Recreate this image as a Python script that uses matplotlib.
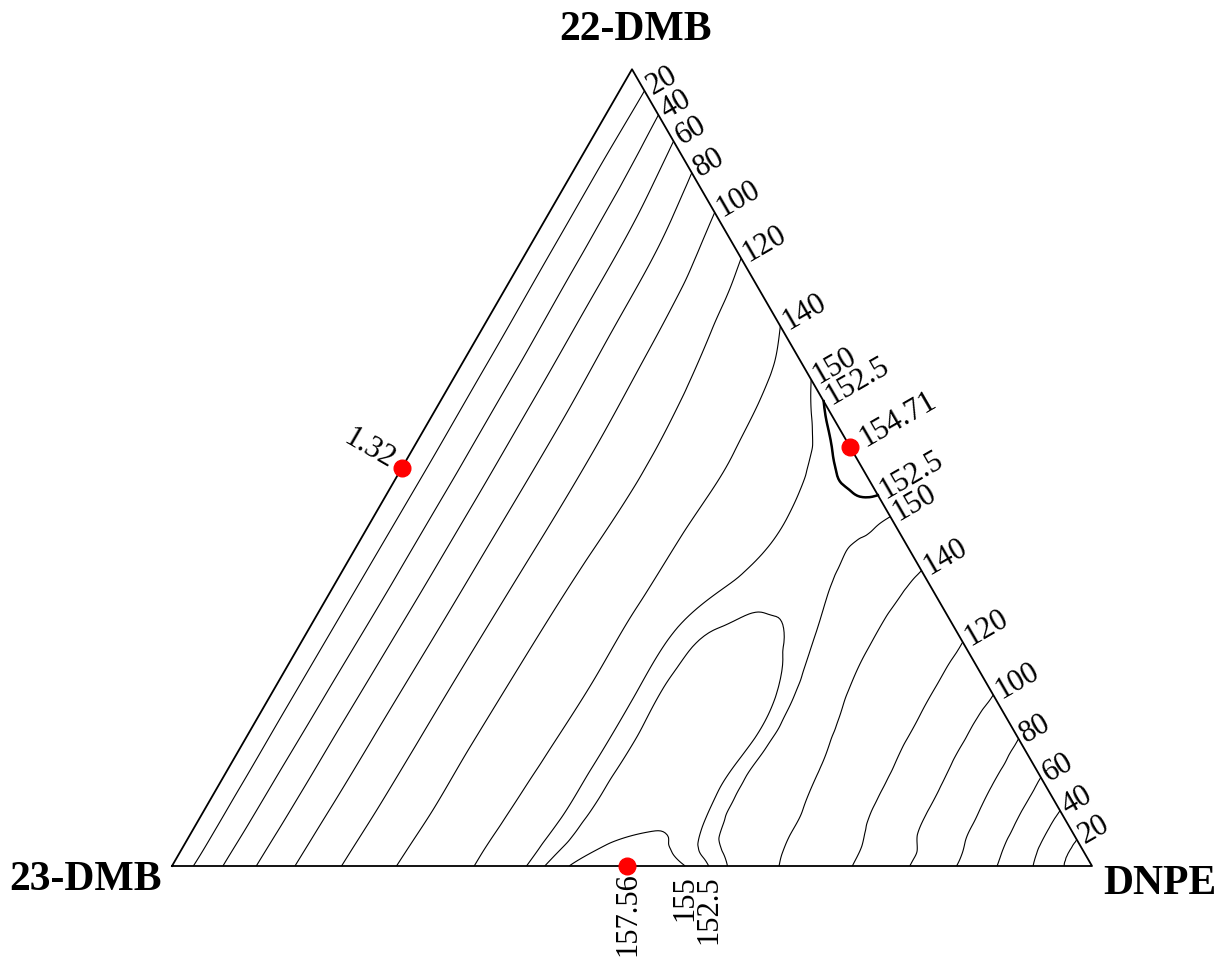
import matplotlib
matplotlib.use("Agg")
import matplotlib.pyplot as plt
import matplotlib.tri as mtri
import numpy as np

plt.rcParams["font.family"] = ["Liberation Serif", "DejaVu Serif"]

# grid of the read-off field: rows follow the DNPE fraction c,
# columns the 22-DMB share of the rest, t = a / (a + b)
c_frac = [0, 0.025, 0.05, 0.1, 0.15, 0.2, 0.25, 0.3, 0.35, 0.4, 0.45,
          0.5, 0.55, 0.6, 0.65, 0.7, 0.75, 0.8, 0.85, 0.9, 0.95, 1.0]
t_share = [0, 0.05, 0.1, 0.2, 0.35, 0.5, 0.65, 0.8, 0.9, 0.95, 1.0]

# one list per t column, values along c_frac
field = [
    [0, 21.3, 36.9, 64.3, 86.8, 105.7, 121.7, 134.0, 144.2, 151.9, 156.2,
     157.5, 155.6, 150.5, 142.1, 130.4, 117.0, 100.7, 81.2, 58.5, 32.0, 0],
    [0.25, 20.5, 36.2, 63.6, 86.2, 105.0, 121.0, 133.5, 144.0, 151.2, 154.6,
     155.9, 153.5, 148.6, 141.0, 130.0, 116.8, 100.6, 81.0, 58.0, 31.5, 0],
    [0.48, 20.3, 35.8, 63.0, 85.6, 104.4, 120.4, 133.1, 143.4, 150.8, 153.9,
     154.8, 152.8, 147.3, 140.5, 129.5, 116.2, 100.0, 80.5, 57.5, 31.0, 0],
    [0.84, 20.0, 35.0, 62.3, 84.8, 103.9, 120.2, 132.1, 142.8, 150.6, 153.5,
     154.0, 152.2, 146.3, 140.1, 127.7, 113.6, 96.5, 78.8, 56.5, 30.3, 0],
    [1.2, 19.3, 33.8, 60.9, 83.6, 103.0, 119.3, 131.2, 141.8, 150.5, 153.4,
     154.0, 152.8, 145.7, 138.8, 126.7, 112.3, 95.5, 77.8, 55.6, 29.4, 0],
    [1.32, 18.6, 33.1, 60.0, 82.7, 101.6, 118.0, 130.3, 141.5, 150.0, 152.9,
     153.4, 152.2, 145.1, 137.1, 125.5, 111.5, 94.8, 77.0, 55.1, 29.1, 0],
    [1.2, 18.6, 33.0, 59.8, 82.1, 100.8, 116.3, 129.0, 140.5, 146.4, 151.1,
     152.3, 150.4, 143.7, 135.2, 124.8, 110.8, 94.0, 76.6, 54.8, 29.1, 0],
    [0.84, 19.0, 33.7, 60.2, 83.1, 101.9, 117.5, 129.0, 139.8, 144.9, 150.0,
     151.0, 149.2, 143.0, 135.1, 124.6, 110.5, 94.0, 76.6, 54.8, 29.1, 0],
    [0.48, 19.2, 34.1, 61.0, 84.0, 103.3, 120.0, 130.6, 140.7, 146.4, 150.9,
     151.4, 149.6, 143.5, 135.5, 124.6, 110.7, 94.1, 76.3, 54.8, 29.4, 0],
    [0.25, 18.9, 34.5, 62.9, 85.8, 105.3, 121.3, 132.2, 141.8, 148.3, 151.85,
     152.7, 150.2, 143.9, 135.7, 124.8, 111.1, 94.6, 76.3, 54.8, 29.5, 0],
    [0, 18.5, 35.3, 65.4, 88.3, 107.7, 123.6, 135.7, 144.6, 151.1, 154.3,
     154.3, 151.2, 144.8, 136.2, 124.9, 111.3, 94.9, 76.2, 54.9, 29.7, 0],
]

levels = [20, 40, 60, 80, 100, 120, 140, 150, 152.5, 155]

# marked maxima: (DNPE fraction, 22-DMB fraction, value)
peak_c = [0.0, 0.474, 0.495]
peak_a = [0.5, 0.526, 0.0]
peak_val = ["1.32", "154.71", "157.56"]

S3 = np.sqrt(3)


def to_xy(c, a):
    c = np.asarray(c, float)
    a = np.asarray(a, float)
    return c + a / 2, a * S3 / 2


# structured triangulation in (c, t) space
nc, nt = len(c_frac), len(t_share)
C, T = np.meshgrid(c_frac, t_share, indexing="ij")
Z = np.array(field).T
tris = []
for i in range(nc - 1):
    for j in range(nt - 1):
        p = i * nt + j
        tris.append([p, p + nt, p + nt + 1])
        tris.append([p, p + nt + 1, p + 1])
tri_ct = mtri.Triangulation(C.ravel(), T.ravel(), np.array(tris))
interp = mtri.CubicTriInterpolator(tri_ct, Z.ravel(), kind="min_E")
refiner = mtri.UniformTriRefiner(tri_ct)
fine, fine_z = refiner.refine_field(Z.ravel(), triinterpolator=interp, subdiv=4)

fc = fine.x
fa = fine.y * (1 - fc)
fx, fy = to_xy(fc, fa)
tri_xy = mtri.Triangulation(fx, fy, fine.triangles)

fig = plt.figure(figsize=(12.15, 9.57), dpi=100)
ax = fig.add_axes([0, 0, 1, 1])
ax.set_xlim(-172 / 920, 1043 / 920)
ax.set_ylim(-91 / 920, 866 / 920)
ax.axis("off")

cs = ax.tricontour(tri_xy, fine_z, levels=levels, colors="k", linewidths=0.8)

# triangle frame
ax.plot([0, 1, 0.5, 0], [0, 0, S3 / 2, 0], color="k", lw=1.3, zorder=3)


def pieces(path):
    v = path.vertices
    codes = path.codes
    if codes is None:
        return [v]
    starts = list(np.flatnonzero(codes == 1)) + [len(v)]
    out = []
    for s, e in zip(starts[:-1], starts[1:]):
        seg = v[s:e]
        if len(seg) > 1:
            out.append(seg)
    return out


def fmt(v):
    return f"{v:g}"


fs = 22
for lev, path in zip(cs.levels, cs.get_paths()):
    for seg in pieces(path):
        b = 1 - seg[:, 0] - seg[:, 1] / S3
        if lev == 152.5 and b.max() < 0.1:
            ax.plot(seg[:, 0], seg[:, 1], color="k", lw=1.8, zorder=2)
        for px, py in (seg[0], seg[-1]):
            pb = 1 - px - py / S3
            if abs(pb) < 2e-3 and py > 5e-3:
                ax.text(px + 0.005 * 0.866, py + 0.005 * 0.5, fmt(lev),
                        rotation=30, rotation_mode="anchor", ha="left",
                        va="center", fontsize=fs)
            elif abs(py) < 1e-4 and lev >= 152.5 and px > 0.5:
                ax.text(px, py - 0.01, fmt(lev), rotation=90,
                        rotation_mode="anchor", ha="right", va="center",
                        fontsize=fs)

px, py = to_xy(peak_c, peak_a)
ax.plot(px, py, "o", color="red", ms=12, zorder=4)
ax.text(px[0] - 0.012 * 0.866, py[0] + 0.012 * 0.5, peak_val[0], rotation=-30,
        rotation_mode="anchor", ha="right", va="center", fontsize=fs)
ax.text(px[1] + 0.014 * 0.866, py[1] + 0.014 * 0.5, peak_val[1], rotation=30,
        rotation_mode="anchor", ha="left", va="center", fontsize=fs)
ax.text(px[2], py[2] - 0.007, peak_val[2], rotation=90,
        rotation_mode="anchor", ha="right", va="center", fontsize=fs)

ax.text(0.5043, 0.9087, "22-DMB", ha="center", va="center", fontsize=30,
        fontweight="bold")
ax.text(-0.0935, -0.0152, "23-DMB", ha="center", va="center", fontsize=30,
        fontweight="bold")
ax.text(1.0739, -0.0196, "DNPE", ha="center", va="center", fontsize=30,
        fontweight="bold")

fig.savefig("out.png", dpi=100)
